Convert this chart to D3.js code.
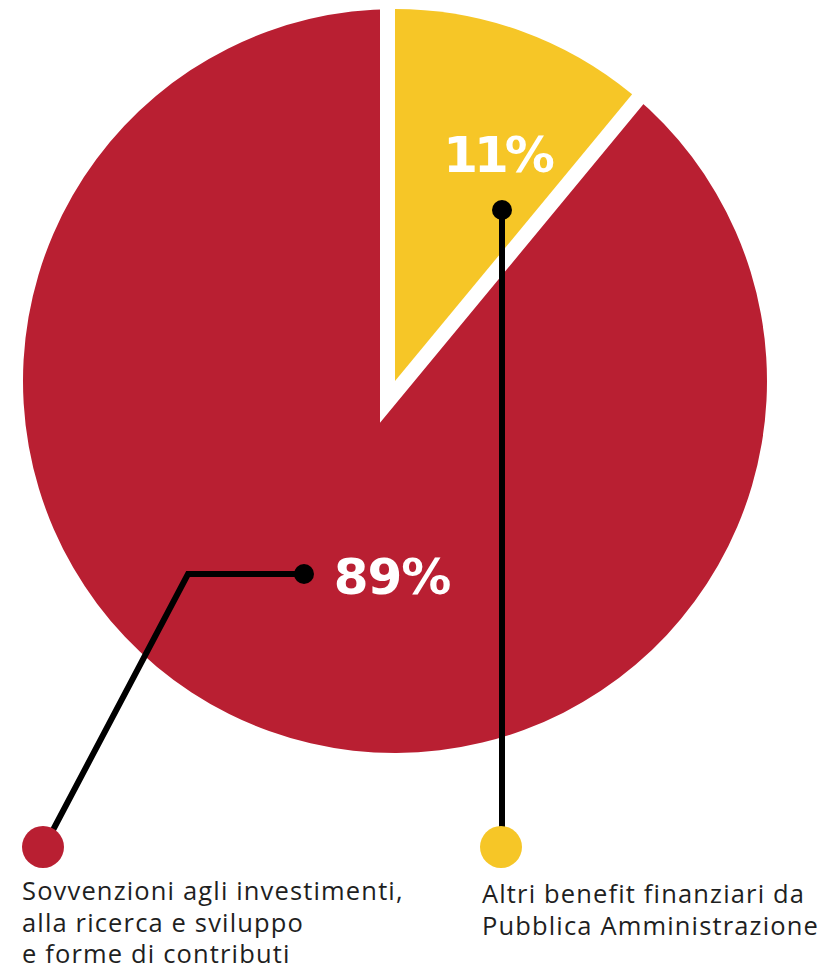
<!DOCTYPE html>
<html>
<head>
<meta charset="utf-8">
<script src="https://cdn.jsdelivr.net/npm/d3@7"></script>
<style>
  html, body { margin: 0; padding: 0; background: #fff; }
  svg { display: block; }
</style>
</head>
<body>
<svg id="chart" width="828" height="969"></svg>
<script>
// Share of the financial support, in percent
const categories = ["Altri benefit finanziari da Pubblica Amministrazione",
                    "Sovvenzioni agli investimenti, alla ricerca e sviluppo e forme di contributi"];
const values = [11, 89];
const valueLabels = ["11%", "89%"];
const legendLines = [
  ["Altri benefit finanziari da", "Pubblica Amministrazione"],
  ["Sovvenzioni agli investimenti,", "alla ricerca e sviluppo", "e forme di contributi"]
];
const colors = ["#F6C627", "#B91F32"];

const svg = d3.select("#chart");
const cx = 395, cy = 381, R = 372;

const pie = d3.pie().sort(null).value(d => d)(values);
const arc = d3.arc().innerRadius(0).outerRadius(R);

const g = svg.append("g").attr("transform", `translate(${cx},${cy})`);

// large slice
g.append("path").attr("d", arc(pie[1])).attr("fill", colors[1]);
// small slice: white border first, then the fill on top of it
g.append("path").attr("d", arc(pie[0]))
  .attr("fill", "#fff").attr("stroke", "#fff")
  .attr("stroke-width", 30).attr("stroke-linejoin", "miter").attr("stroke-miterlimit", 10);
g.append("path").attr("d", arc(pie[0])).attr("fill", colors[0]);

// leader lines, anchored relative to the pie centre
const lineW = 6;
const leaders = [
  { pts: [[107, -171], [107, 466]], dot: [107, -171], legend: [106, 466] },
  { pts: [[-91, 193], [-207, 193], [-342, 449]], dot: [-91, 193], legend: [-352, 466] }
];
leaders.forEach((L, i) => {
  g.append("path")
    .attr("d", d3.line()(L.pts))
    .attr("fill", "none").attr("stroke", "#000")
    .attr("stroke-width", lineW).attr("stroke-linejoin", "miter");
  g.append("circle").attr("cx", L.dot[0]).attr("cy", L.dot[1]).attr("r", 10).attr("fill", "#000");
  g.append("circle").attr("cx", L.legend[0]).attr("cy", L.legend[1]).attr("r", 21).attr("fill", colors[i]);
});

// value labels
const labelPos = [[102, -226], [-3, 196]];
valueLabels.forEach((t, i) => {
  g.append("text")
    .attr("x", labelPos[i][0]).attr("y", labelPos[i][1])
    .attr("text-anchor", "middle").attr("dominant-baseline", "central")
    .attr("font-family", "'DejaVu Sans', sans-serif").attr("font-weight", "bold")
    .attr("font-size", 50).attr("fill", "#fff")
    .attr("letter-spacing", i === 0 ? -4 : -1)
    .text(t);
});

// legend texts
const legendText = [{ x: 482, y: 903 }, { x: 22, y: 900 }];
legendLines.forEach((lines, i) => {
  const t = svg.append("text")
    .attr("x", legendText[i].x).attr("y", legendText[i].y)
    .attr("font-family", "'Open Sans', sans-serif").attr("font-weight", 400)
    .attr("font-size", 25.5).attr("letter-spacing", 1.15).attr("fill", "#1f1f1f");
  lines.forEach((s, j) => {
    t.append("tspan").attr("x", legendText[i].x).attr("dy", j === 0 ? 0 : 31.5).text(s);
  });
});
</script>
</body>
</html>
